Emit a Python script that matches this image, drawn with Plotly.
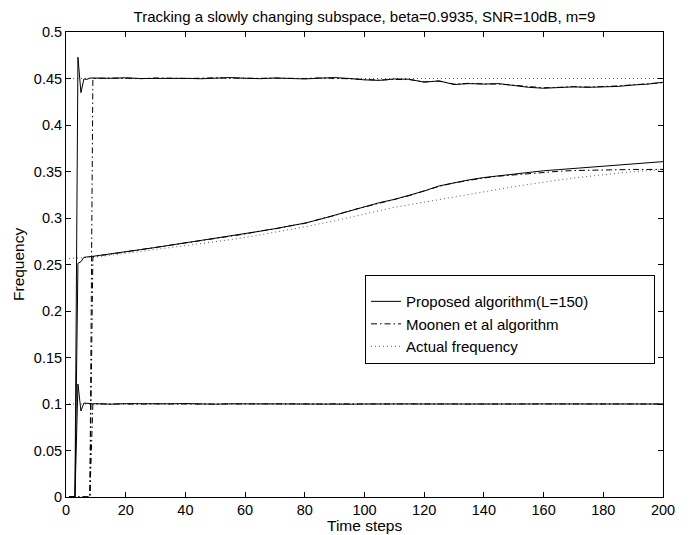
import plotly.graph_objects as go

# ---------------- data ----------------
t_early = [1, 2, 3, 4, 5, 6, 7, 8, 9]
t_late = list(range(10, 201, 5))
t_est = t_early + t_late

# Proposed algorithm (L=150) - three frequency tracks
prop_high = [0, 0, 0, 0.4728, 0.4348, 0.4495, 0.4490, 0.4505, 0.4502,
             0.4505, 0.4502, 0.4508, 0.4500, 0.4503, 0.4506, 0.4502, 0.4497, 0.4505, 0.4510,
             0.4503, 0.4498, 0.4506, 0.4500, 0.4495, 0.4504, 0.4510, 0.4500, 0.4485, 0.4480,
             0.4495, 0.4492, 0.4460, 0.4475, 0.4435, 0.4445, 0.4440, 0.4445, 0.4425, 0.4405,
             0.4395, 0.4400, 0.4410, 0.4405, 0.4410, 0.4415, 0.4430, 0.4440, 0.4460]
prop_mid = [0, 0, 0, 0.2513, 0.2530, 0.2577, 0.2584, 0.2585, 0.2588,
            0.2592, 0.2615, 0.2638, 0.2660, 0.2683, 0.2707, 0.2730, 0.2755, 0.2780, 0.2805,
            0.2830, 0.2858, 0.2885, 0.2912, 0.2945, 0.2985, 0.3030, 0.3075, 0.3120, 0.3165,
            0.3200, 0.3245, 0.3290, 0.3345, 0.3380, 0.3410, 0.3435, 0.3455, 0.3473, 0.3490,
            0.3508, 0.3520, 0.3532, 0.3545, 0.3555, 0.3565, 0.3578, 0.3592, 0.3606]
prop_low = [0, 0, 0, 0.1215, 0.0925, 0.1010, 0.1008, 0.0998, 0.1002,
            0.1003, 0.0998, 0.1004, 0.1001, 0.0999, 0.1002, 0.1005, 0.1000, 0.0998, 0.1002,
            0.1001, 0.0999, 0.1003, 0.1000, 0.0999, 0.1002, 0.1001, 0.0998, 0.1000, 0.1002,
            0.0999, 0.1001, 0.1000, 0.0999, 0.1001, 0.1000, 0.1000, 0.1001, 0.0999, 0.1000,
            0.1001, 0.1000, 0.0999, 0.1000, 0.1001, 0.1000, 0.1000, 0.0999, 0.1000]

# Moonen et al algorithm
moon_high = [0, 0, 0, 0, 0, 0, 0, 0, 0.4500,
             0.4502, 0.4505, 0.4503, 0.4498, 0.4506, 0.4502, 0.4500, 0.4503, 0.4508, 0.4504,
             0.4500, 0.4502, 0.4504, 0.4498, 0.4500, 0.4506, 0.4505, 0.4497, 0.4490, 0.4483,
             0.4490, 0.4488, 0.4465, 0.4470, 0.4440, 0.4448, 0.4442, 0.4440, 0.4428, 0.4410,
             0.4400, 0.4405, 0.4412, 0.4408, 0.4412, 0.4420, 0.4432, 0.4442, 0.4455]
moon_mid = [0, 0, 0, 0, 0, 0, 0, 0, 0.2582,
            0.2590, 0.2612, 0.2636, 0.2662, 0.2685, 0.2705, 0.2732, 0.2757, 0.2778, 0.2807,
            0.2828, 0.2860, 0.2883, 0.2915, 0.2942, 0.2988, 0.3027, 0.3078, 0.3117, 0.3162,
            0.3203, 0.3240, 0.3292, 0.3340, 0.3378, 0.3405, 0.3430, 0.3450, 0.3465, 0.3480,
            0.3492, 0.3502, 0.3510, 0.3515, 0.3518, 0.3520, 0.3522, 0.3522, 0.3523]
moon_low = [0, 0, 0, 0, 0, 0, 0, 0, 0.1000,
            0.1002, 0.1000, 0.1003, 0.0999, 0.1001, 0.1003, 0.1002, 0.0999, 0.1000, 0.1003,
            0.1000, 0.1001, 0.1002, 0.0999, 0.1000, 0.1001, 0.1002, 0.0999, 0.1001, 0.1000,
            0.1000, 0.1002, 0.0999, 0.1000, 0.1001, 0.0999, 0.1001, 0.1000, 0.1000, 0.1001,
            0.1000, 0.0999, 0.1000, 0.1001, 0.1000, 0.1000, 0.1001, 0.1000, 0.1000]

# Actual frequencies
t_act = [1] + list(range(10, 201, 10))
act_high = [0.45] * len(t_act)
act_mid = [0.2565, 0.2580, 0.2620, 0.2660, 0.2700, 0.2745, 0.2790, 0.2845, 0.2905, 0.2970,
           0.3040, 0.3115, 0.3170, 0.3225, 0.3285, 0.3337, 0.3385, 0.3430, 0.3465, 0.3498, 0.3520]
act_low = [0.10] * len(t_act)

x_ticks = list(range(0, 201, 20))
y_ticks = [0, 0.05, 0.1, 0.15, 0.2, 0.25, 0.3, 0.35, 0.4, 0.45, 0.5]
y_tick_text = ["0", "0.05", "0.1", "0.15", "0.2", "0.25", "0.3", "0.35", "0.4", "0.45", "0.5"]

title_text = "Tracking a slowly changing subspace, beta=0.9935, SNR=10dB, m=9"

# ---------------- figure ----------------
FONT = "Liberation Sans, Arial, Helvetica, sans-serif"
fig = go.Figure()

solid = dict(color="black", width=1)
dashdot = dict(color="black", width=1, dash="6px,3px,1.5px,3px")
dotted = dict(color="rgb(90,90,90)", width=1, dash="1px,3px")

for i, yv in enumerate([act_high, act_mid, act_low]):
    fig.add_trace(go.Scatter(x=t_act, y=yv, mode="lines", line=dotted,
                             name="Actual frequency", legendgroup="act",
                             showlegend=(i == 0), legendrank=3))
for i, yv in enumerate([moon_high, moon_mid, moon_low]):
    fig.add_trace(go.Scatter(x=t_est, y=yv, mode="lines", line=dashdot,
                             name="Moonen et al algorithm", legendgroup="moon",
                             showlegend=(i == 0), legendrank=2))
for i, yv in enumerate([prop_high, prop_mid, prop_low]):
    fig.add_trace(go.Scatter(x=t_est, y=yv, mode="lines", line=solid,
                             name="Proposed algorithm(L=150)", legendgroup="prop",
                             showlegend=(i == 0), legendrank=1))

axis_common = dict(showline=True, linecolor="black", linewidth=1, mirror="ticks",
                   ticks="inside", ticklen=5, tickcolor="black", tickwidth=1,
                   showgrid=False, zeroline=False,
                   tickfont=dict(family=FONT, size=14.5, color="black"))

fig.update_xaxes(range=[0, 200], tickvals=x_ticks, **axis_common)
fig.update_yaxes(range=[0, 0.5], tickvals=y_ticks, ticktext=y_tick_text, **axis_common)

# the page body has an 8px margin, so the figure is 8px smaller than the window
W, H = 685, 527
L, T, R, B = 58, 24, 30, 38
PW, PH = W - L - R, H - T - B

fig.update_layout(
    width=W, height=H,
    margin=dict(l=L, r=R, t=T, b=B),
    paper_bgcolor="white", plot_bgcolor="white",
    font=dict(family=FONT, size=15, color="black"),
    title=dict(text=title_text, x=0.5, xref="paper", y=1 - 8.5 / H, yref="container",
               xanchor="center", yanchor="middle",
               font=dict(family=FONT, size=15, color="black")),
    legend=dict(x=(357 - L) / PW, y=(T + PH - 267) / PH, xanchor="left", yanchor="top",
                bgcolor="white", bordercolor="black", borderwidth=1,
                font=dict(family=FONT, size=15, color="black"),
                title=dict(text="&nbsp;" * 146, font=dict(size=7)),
                tracegroupgap=0, itemwidth=30),
    annotations=[
        dict(text="Time steps", x=0.5, xref="paper", y=-28 / PH, yref="paper",
             xanchor="center", yanchor="middle", showarrow=False,
             font=dict(family=FONT, size=15.5, color="black")),
        dict(text="Frequency", x=(10.5 - L) / PW, xref="paper", y=0.5, yref="paper",
             xanchor="center", yanchor="middle", showarrow=False, textangle=-90,
             font=dict(family=FONT, size=15.5, color="black")),
    ],
)

fig.write_html("out.html")
